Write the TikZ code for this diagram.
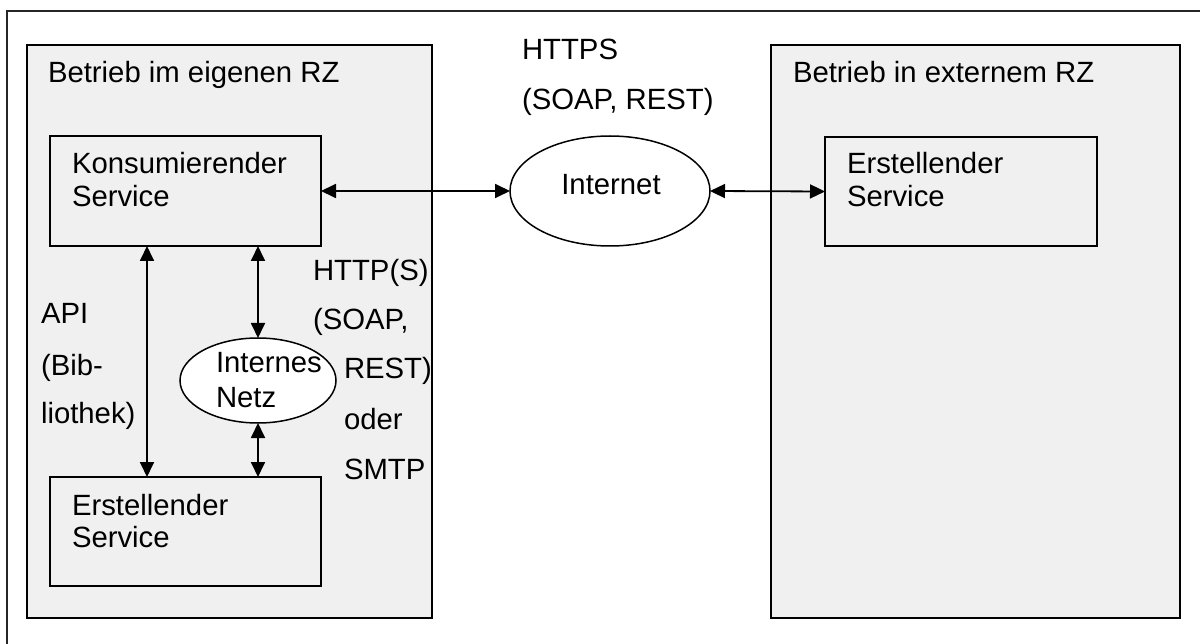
\documentclass[tikz,border=0pt]{standalone}
\usepackage{fontspec}
\setmainfont{Liberation Sans}
\usetikzlibrary{arrows.meta,shapes.geometric}
\definecolor{boxfill}{HTML}{F0F0F0}
\begin{document}
\begin{tikzpicture}[x=1pt,y=-1pt,
  every node/.style={inner sep=0pt,outer sep=0pt},
  txt/.style={anchor=base west,font=\fontsize{29.3pt}{33pt}\selectfont},
  area/.style={draw=black,line width=1.8pt,fill=boxfill,rectangle},
  svc/.style={draw=black,line width=1.8pt,fill=boxfill,rectangle},
  net/.style={draw=black,line width=1.5pt,fill=white,ellipse},
  conn/.style={line width=1.8pt,{Triangle[length=15pt,width=14pt]}-{Triangle[length=15pt,width=14pt]}}]
\useasboundingbox (0,0) rectangle (1200,644);
\begin{scope}
\clip (0,0) rectangle (1200,644);
\draw[line width=1.8pt,draw=black!85] (7,11) rectangle (1230,680);
\end{scope}
% areas
\node[area,minimum width=405pt,minimum height=573pt] (own) at (229.5,331.5) {};
\node[area,minimum width=409pt,minimum height=573pt] (ext) at (975.5,331.5) {};
\node[txt] (ownlbl) at (48,83) {Betrieb im eigenen RZ};
\node[txt] (extlbl) at (793,83) {Betrieb in externem RZ};
% services
\node[svc,minimum width=271pt,minimum height=110pt] (kons) at (185.5,191) {};
\node[svc,minimum width=271pt,minimum height=109pt] (erstl) at (185.5,531.5) {};
\node[svc,minimum width=272pt,minimum height=109pt] (erstr) at (961,191.5) {};
\node[txt] (kons1) at (72,174) {Konsumierender};
\node[txt] (kons2) at (72,207) {Service};
\node[txt] (erstl1) at (72,515) {Erstellender};
\node[txt] (erstl2) at (72,547) {Service};
\node[txt] (erstr1) at (847,174) {Erstellender};
\node[txt] (erstr2) at (847,207) {Service};
% networks
\node[net,minimum width=200pt,minimum height=110pt] (inet) at (610,191) {};
\node[txt,anchor=base] (inetlbl) at (611,195) {Internet};
\node[net,minimum width=156pt,minimum height=85pt] (intern) at (258,380.5) {};
\node[txt] (intern1) at (216,373) {Internes};
\node[txt] (intern2) at (216,407) {Netz};
% labels
\node[txt] (https1) at (522,60) {HTTPS};
\node[txt] (https2) at (522,110) {(SOAP, REST)};
\node[txt] (api1) at (41,324) {API};
\node[txt] (api2) at (41,376) {(Bib-};
\node[txt] (api3) at (41,424) {liothek)};
\node[txt] (http1) at (313,281) {HTTP(S)};
\node[txt] (http2) at (313,330) {(SOAP,};
\node[txt] (http3) at (344,379) {REST)};
\node[txt] (http4) at (344,429) {oder};
\node[txt] (http5) at (344,479) {SMTP};
% connectors
\coordinate (apitop) at (147,0);
\draw[conn] (kons.south -| apitop) -- (erstl.north -| apitop);
\draw[conn] (kons.south -| intern) -- (intern.north);
\draw[conn] (intern.south) -- (erstl.north -| intern);
\draw[conn] (kons.east) -- (inet.west);
\draw[conn] (inet.east) -- (erstr.west);
\end{tikzpicture}
\end{document}
